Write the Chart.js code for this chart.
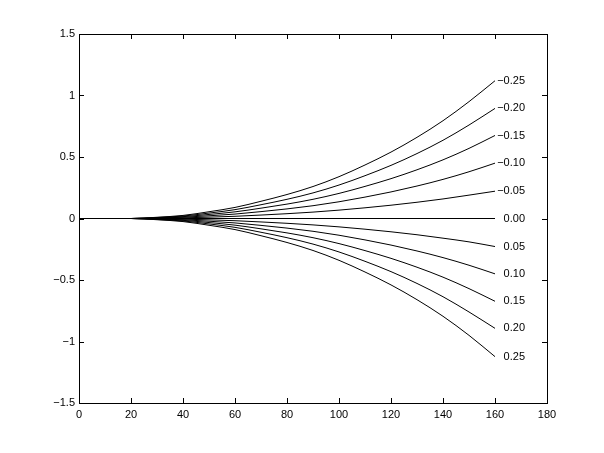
<!DOCTYPE html>
<html>
<head>
<meta charset="utf-8">
<script src="https://cdn.jsdelivr.net/npm/chart.js@4"></script>
<style>
    body { margin: 0; background: #fff; }
</style>
</head>
<body>
<canvas id="curveChart" width="604" height="453"></canvas>
<script>
// data
const xValues = [0, 10, 20, 30, 40, 50, 60, 70, 80, 90, 100, 110, 120, 130, 140, 150, 160];
const curveLabels = ["-0.25", "-0.20", "-0.15", "-0.10", "-0.05", "0.00", "0.05", "0.10", "0.15", "0.20", "0.25"];
const xTicks = [0, 20, 40, 60, 80, 100, 120, 140, 160, 180];
const yTicks = [-1.5, -1, -0.5, 0, 0.5, 1, 1.5];

const curveM25 = [0, 0, 0, 0.01, 0.025, 0.055, 0.09, 0.14, 0.195, 0.26, 0.34, 0.435, 0.54, 0.66, 0.795, 0.95, 1.12];
const curveM20 = [0, 0, 0, 0.008, 0.02, 0.044, 0.072, 0.112, 0.156, 0.208, 0.272, 0.348, 0.432, 0.528, 0.636, 0.76, 0.895];
const curveM15 = [0, 0, 0, 0.006, 0.015, 0.033, 0.054, 0.084, 0.117, 0.156, 0.204, 0.261, 0.324, 0.396, 0.477, 0.57, 0.675];
const curveM10 = [0, 0, 0, 0.004, 0.01, 0.022, 0.036, 0.056, 0.078, 0.104, 0.136, 0.174, 0.216, 0.264, 0.318, 0.38, 0.45];
const curveM05 = [0, 0, 0, 0.002, 0.005, 0.011, 0.018, 0.028, 0.039, 0.052, 0.068, 0.087, 0.108, 0.132, 0.159, 0.19, 0.222];
const curve00 = [0, 0, 0, 0, 0, 0, 0, 0, 0, 0, 0, 0, 0, 0, 0, 0, 0];
const curveP05 = [0, 0, 0, -0.002, -0.005, -0.011, -0.018, -0.028, -0.039, -0.052, -0.068, -0.087, -0.108, -0.132, -0.16, -0.19, -0.228];
const curveP10 = [0, 0, 0, -0.004, -0.01, -0.022, -0.036, -0.056, -0.078, -0.104, -0.136, -0.174, -0.216, -0.264, -0.318, -0.38, -0.45];
const curveP15 = [0, 0, 0, -0.006, -0.015, -0.033, -0.054, -0.084, -0.117, -0.156, -0.204, -0.261, -0.324, -0.396, -0.477, -0.57, -0.673];
const curveP20 = [0, 0, 0, -0.008, -0.02, -0.044, -0.072, -0.112, -0.156, -0.208, -0.272, -0.348, -0.432, -0.528, -0.636, -0.76, -0.893];
const curveP25 = [0, 0, 0, -0.01, -0.025, -0.055, -0.09, -0.14, -0.195, -0.26, -0.34, -0.435, -0.54, -0.66, -0.795, -0.95, -1.123];

const allCurves = [curveM25, curveM20, curveM15, curveM10, curveM05, curve00, curveP05, curveP10, curveP15, curveP20, curveP25];

const FONT = "11px 'Liberation Sans', Arial, sans-serif";
const minusFix = (s) => String(s).replace("-", "\u2212");

// box + inward ticks on all four sides, plus the end labels
const matlabFrame = {
    id: "matlabFrame",
    afterDatasetsDraw(chart) {
        const { ctx, chartArea: a, scales } = chart;
        ctx.save();
        ctx.strokeStyle = "#000";
        ctx.lineWidth = 1;
        ctx.strokeRect(Math.round(a.left) + 0.5, Math.round(a.top) + 0.5,
            Math.round(a.right - a.left), Math.round(a.bottom - a.top));
        const len = 5;
        ctx.beginPath();
        xTicks.forEach((v) => {
            const px = Math.round(scales.x.getPixelForValue(v)) + 0.5;
            ctx.moveTo(px, a.bottom); ctx.lineTo(px, a.bottom - len);
            ctx.moveTo(px, a.top); ctx.lineTo(px, a.top + len);
        });
        yTicks.forEach((v) => {
            const py = Math.round(scales.y.getPixelForValue(v)) + 0.5;
            ctx.moveTo(a.left, py); ctx.lineTo(a.left + len, py);
            ctx.moveTo(a.right, py); ctx.lineTo(a.right - len, py);
        });
        ctx.stroke();

        ctx.fillStyle = "#000";
        ctx.font = FONT;
        ctx.textAlign = "right";
        ctx.textBaseline = "middle";
        chart.data.datasets.forEach((ds, i) => {
            const pts = chart.getDatasetMeta(i).data;
            const last = pts[pts.length - 1];
            ctx.fillText(minusFix(curveLabels[i]), last.x + 30, last.y);
        });
        ctx.restore();
    },
};

const datasets = allCurves.map((vals, i) => ({
    label: curveLabels[i],
    data: xValues.map((x, j) => ({ x: x, y: vals[j] })),
    borderColor: "#000",
    borderWidth: 1,
    pointRadius: 0,
    fill: false,
    cubicInterpolationMode: "monotone",
}));

new Chart(document.getElementById("curveChart"), {
    type: "line",
    data: { datasets },
    options: {
        responsive: false,
        animation: false,
        events: [],
        layout: { padding: { top: 34, right: 57, left: 0, bottom: 0 } },
        plugins: { legend: { display: false }, tooltip: { enabled: false } },
        scales: {
            x: {
                type: "linear",
                min: 0,
                max: 180,
                afterBuildTicks: (s) => { s.ticks = xTicks.map((v) => ({ value: v })); },
                afterFit: (s) => { s.height = 50; },
                grid: { display: false, drawTicks: false },
                border: { display: false },
                ticks: { color: "#000", font: { family: "'Liberation Sans', Arial, sans-serif", size: 11 }, padding: 5, maxRotation: 0, autoSkip: false },
            },
            y: {
                type: "linear",
                min: -1.5,
                max: 1.5,
                afterBuildTicks: (s) => { s.ticks = yTicks.map((v) => ({ value: v })); },
                afterFit: (s) => { s.width = 79; },
                grid: { display: false, drawTicks: false },
                border: { display: false },
                ticks: {
                    color: "#000",
                    font: { family: "'Liberation Sans', Arial, sans-serif", size: 11 },
                    padding: 4,
                    autoSkip: false,
                    callback: (v) => minusFix(v),
                },
            },
        },
    },
    plugins: [matlabFrame],
});
</script>
</body>
</html>
